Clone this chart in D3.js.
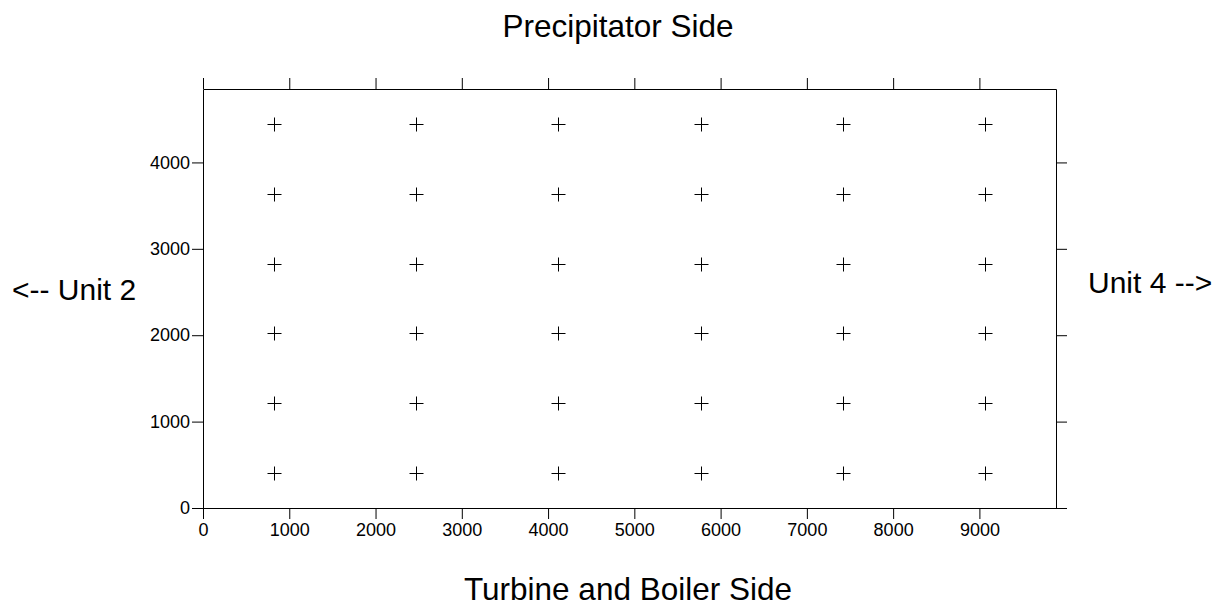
<!DOCTYPE html>
<html>
<head>
<meta charset="utf-8">
<script src="https://cdn.jsdelivr.net/npm/d3@7"></script>
<style>
  body { margin: 0; background: #fff; }
  svg { display: block; font-family: "Liberation Sans", Arial, sans-serif; }
  .axis path, .axis line { stroke: #000; }
  .axis text { font-size: 18px; fill: #000; }
  .title { font-size: 31.5px; fill: #000; }
  .side { font-size: 30px; fill: #000; }
</style>
</head>
<body>
<div id="chart"></div>
<script>
// grid of sample points (x = east/west distance, y = north/south distance)
var xCenters = [824, 2472, 4120, 5768, 7416, 9064];
var yCenters = [400, 1210, 2020, 2830, 3640, 4450];
var xTicks = [0, 1000, 2000, 3000, 4000, 5000, 6000, 7000, 8000, 9000];
var yTicks = [0, 1000, 2000, 3000, 4000];
var xMax = 9888, yMax = 4850;

var width = 1217, height = 608;
var margin = { top: 89, right: 161, bottom: 100, left: 203 };
var w = width - margin.left - margin.right,
    h = height - margin.top - margin.bottom;

var svg = d3.select('#chart').append('svg')
  .attr('width', width).attr('height', height);

var g = svg.append('g')
  .attr('transform', 'translate(' + margin.left + ',' + margin.top + ')');

var x = d3.scaleLinear().domain([0, xMax]).range([0, w]);
var y = d3.scaleLinear().domain([0, yMax]).range([h, 0]);

g.append('g').attr('class', 'axis')
  .attr('transform', 'translate(0,' + h + ')')
  .call(d3.axisBottom(x).tickValues(xTicks).tickSize(11).tickSizeOuter(0).tickPadding(4).tickFormat(d3.format('d')));

g.append('g').attr('class', 'axis')
  .call(d3.axisTop(x).tickValues(xTicks).tickSize(11).tickSizeOuter(0).tickFormat(''));

g.append('g').attr('class', 'axis')
  .call(d3.axisLeft(y).tickValues(yTicks).tickSize(11).tickSizeOuter(0).tickPadding(2).tickFormat(d3.format('d')));

g.append('g').attr('class', 'axis')
  .attr('transform', 'translate(' + w + ',0)')
  .call(d3.axisRight(y).tickValues(yTicks).tickSize(11).tickSizeOuter(0).tickFormat(''));

var pts = [];
yCenters.forEach(function(yy) {
  xCenters.forEach(function(xx) { pts.push({ x: xx, y: yy }); });
});

g.selectAll('path.cross').data(pts).enter().append('path')
  .attr('class', 'cross')
  .attr('transform', function(d) {
    return 'translate(' + (Math.round(x(d.x)) + 0.5) + ',' + (Math.round(y(d.y)) + 0.5) + ')';
  })
  .attr('d', 'M-7,0H7M0,-7V7')
  .attr('stroke', '#000').attr('stroke-width', 1).attr('fill', 'none');

svg.append('text').attr('class', 'title')
  .attr('x', 618).attr('y', 37).attr('text-anchor', 'middle')
  .text('Precipitator Side');

svg.append('text').attr('class', 'title')
  .attr('x', 628).attr('y', 600).attr('text-anchor', 'middle')
  .text('Turbine and Boiler Side');

svg.append('text').attr('class', 'side')
  .attr('x', 12).attr('y', 300)
  .text('<-- Unit 2');

svg.append('text').attr('class', 'side')
  .attr('x', 1088).attr('y', 293)
  .text('Unit 4 -->');
</script>
</body>
</html>
